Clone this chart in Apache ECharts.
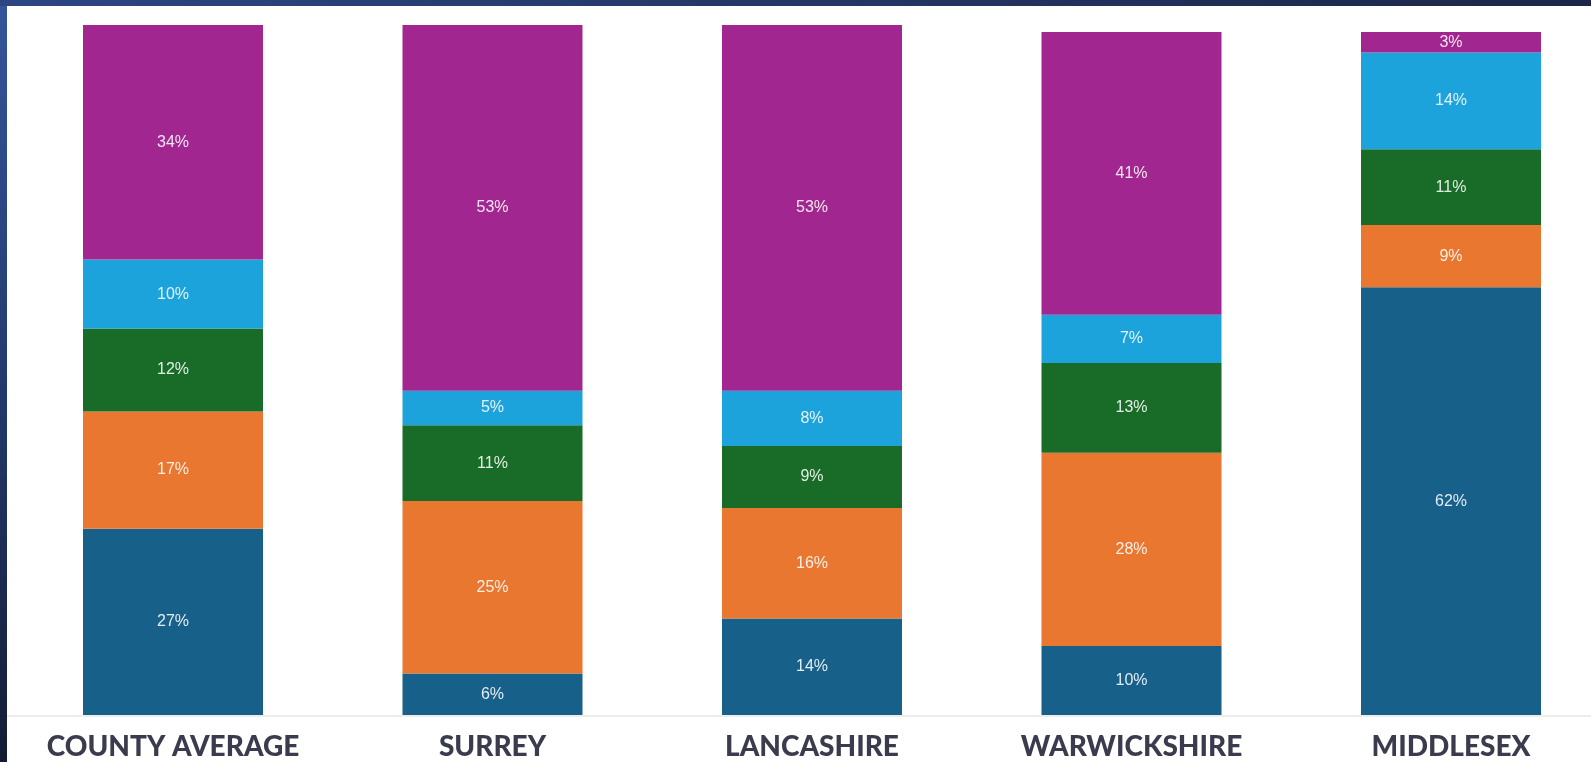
<!DOCTYPE html>
<html>
<head>
<meta charset="utf-8">
<script src="https://cdn.jsdelivr.net/npm/echarts@6/dist/echarts.min.js"></script>
<style>
html,body{margin:0;padding:0;background:#ffffff;}
#chart{width:1591px;height:762px;}
</style>
</head>
<body>
<div id="chart"></div>
<script>
const categories = ['COUNTY AVERAGE', 'SURREY', 'LANCASHIRE', 'WARWICKSHIRE', 'MIDDLESEX'];
const blueValues   = [27, 6, 14, 10, 62];
const orangeValues = [17, 25, 16, 28, 9];
const greenValues  = [12, 11, 9, 13, 11];
const cyanValues   = [10, 5, 8, 7, 14];
const purpleValues = [34, 53, 53, 41, 3];

const seriesDefs = [
  {name: 'blue', data: blueValues, color: '#17608a'},
  {name: 'orange', data: orangeValues, color: '#ea7730'},
  {name: 'green', data: greenValues, color: '#196c27'},
  {name: 'cyan', data: cyanValues, color: '#1ca3dc'},
  {name: 'purple', data: purpleValues, color: '#a2268f'}
];

const chart = echarts.init(document.getElementById('chart'));
chart.setOption({
  backgroundColor: '#ffffff',
  animation: false,
  graphic: [
    {type: 'rect', left: 0, top: 0, shape: {width: 7, height: 762}, z: 100,
     style: {fill: new echarts.graphic.LinearGradient(0, 0, 0, 1, [{offset: 0, color: '#34569a'}, {offset: 0.5, color: '#233a6e'}, {offset: 1, color: '#141c34'}])}},
    {type: 'rect', left: 0, top: 0, shape: {width: 1591, height: 6}, z: 100,
     style: {fill: new echarts.graphic.LinearGradient(0, 0, 1, 0, [{offset: 0, color: '#2c4683'}, {offset: 1, color: '#1c2748'}])}},
    {type: 'line', shape: {x1: 7, y1: 716, x2: 1591, y2: 716}, z: 0,
     style: {stroke: '#ededed', lineWidth: 2}}
  ],
  grid: {left: 173, right: 140, top: 25, bottom: 47, containLabel: false},
  xAxis: {
    type: 'category',
    data: categories,
    boundaryGap: false,
    axisLine: {show: false},
    axisTick: {show: false},
    axisLabel: {
      color: '#3a3c4e',
      fontFamily: 'Lato, "Open Sans", sans-serif',
      fontWeight: 900,
      fontSize: 28,
      margin: 18,
      interval: 0
    }
  },
  yAxis: {
    type: 'value', min: 0, max: 100,
    show: false,
    splitLine: {show: false}
  },
  series: seriesDefs.map(s => ({
    name: s.name,
    type: 'bar',
    stack: 'total',
    barWidth: 180,
    clip: false,
    data: s.data,
    itemStyle: {color: s.color},
    label: {
      show: true,
      position: 'inside',
      formatter: '{c}%',
      color: 'rgba(255,255,255,0.88)',
      fontFamily: '"Liberation Sans", Arial, sans-serif',
      fontSize: 16
    }
  }))
});
</script>
</body>
</html>
